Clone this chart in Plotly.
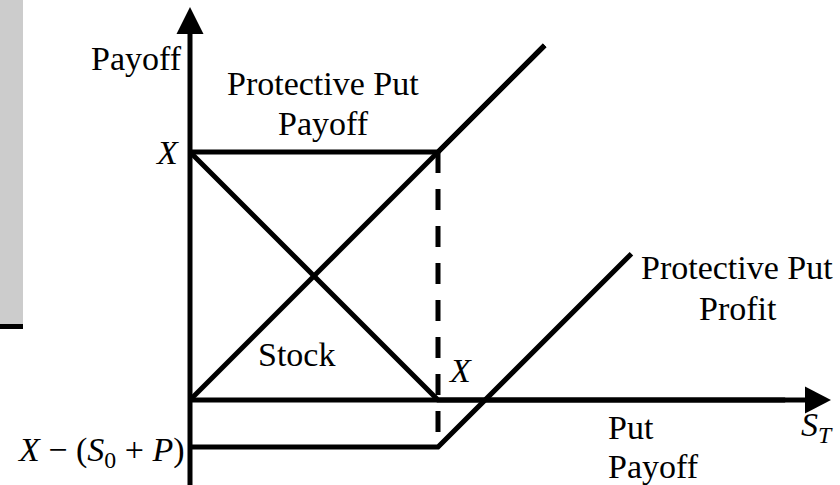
import plotly.graph_objects as go

# ---- data (stylised payoff diagram units) ----
strike = 50.0
net_cost_level = -9.5          # X - (S0 + P)
stock_x = [0.0, 71.5]
stock_y = [0.0, 71.5]
put_x = [0.0, 50.0, 120.0]
put_y = [50.0, 0.0, 0.0]
pp_payoff_x = [0.0, 50.0, 71.5]
pp_payoff_y = [50.0, 50.0, 71.5]
pp_profit_x = [0.0, 50.0, 89.0]
pp_profit_y = [-9.5, -9.5, 29.5]
dash_x = [strike, strike]
dash_y = [strike, net_cost_level]

# ---- canvas geometry ----
W, H = 840, 485
OX, OY = 190.0, 400.0   # pixel of origin
K = 4.96                # pixels per unit


def dx(px):
    return (px - OX) / K


def dy(py):
    return (OY - py) / K


xr = [dx(0), dx(W)]
yr = [dy(H), dy(0)]

LW = 5
FONT = "Liberation Serif, Times New Roman, serif"
FS = 34

fig = go.Figure()


def add_line(x, y, dash="solid"):
    fig.add_trace(go.Scatter(x=x, y=y, mode="lines",
                             line=dict(color="black", width=LW, dash=dash),
                             hoverinfo="skip", showlegend=False))


add_line(stock_x, stock_y)
add_line(put_x, put_y)
add_line(pp_payoff_x, pp_payoff_y)
add_line(pp_profit_x, pp_profit_y)
add_line(dash_x, dash_y, dash="21px,16px")

shapes = []
# grey side panel
shapes.append(dict(type="rect", xref="paper", yref="paper",
                   x0=0, x1=23 / W, y0=1 - 324 / H, y1=1,
                   fillcolor="#cccccc", line=dict(width=0), layer="below"))
shapes.append(dict(type="line", xref="paper", yref="paper",
                   x0=0, x1=23 / W, y0=1 - 326.5 / H, y1=1 - 326.5 / H,
                   line=dict(color="black", width=5)))
# axes
shapes.append(dict(type="line", x0=0, x1=0, y0=yr[0], y1=dy(30),
                   line=dict(color="black", width=LW)))
shapes.append(dict(type="line", x0=0, x1=dx(808), y0=0, y1=0,
                   line=dict(color="black", width=LW)))
# arrow heads
tx, ty = 0.0, dy(7)
by = dy(34)
hw = 13.5 / K
shapes.append(dict(type="path",
                   path=f"M {tx-hw},{by} L {tx},{ty} L {tx+hw},{by} Z",
                   fillcolor="black", line=dict(width=0)))
rx, bx = dx(831), dx(805)
shapes.append(dict(type="path",
                   path=f"M {bx},{hw} L {rx},0 L {bx},{-hw} Z",
                   fillcolor="black", line=dict(width=0)))


def ann(text, px, py, xanchor="center", align="center"):
    return dict(text=text, x=dx(px), y=dy(py), xref="x", yref="y",
                xanchor=xanchor, yanchor="middle", align=align,
                showarrow=False, font=dict(family=FONT, size=FS, color="black"))


annotations = [
    ann("Payoff", 184, 58, xanchor="right"),
    ann("Protective Put", 323, 83),
    ann("Payoff", 323, 123),
    ann("<i>X</i>", 181, 152, xanchor="right"),
    ann("Protective Put", 737, 267),
    ann("Profit", 738, 308),
    ann("Stock", 296, 354),
    ann("<i>X</i>", 446, 370, xanchor="left"),
    ann("Put", 606, 427, xanchor="left"),
    ann("Payoff", 606, 466, xanchor="left"),
    ann("<i>S</i><sub><i>T</i></sub>", 799, 427, xanchor="left"),
    ann("<i>X</i> − (<i>S</i><sub>0</sub> + <i>P</i>)", 186, 452, xanchor="right"),
]

fig.update_layout(
    width=W, height=H, autosize=False,
    margin=dict(l=0, r=0, t=0, b=0),
    paper_bgcolor="white", plot_bgcolor="white",
    xaxis=dict(range=xr, visible=False, fixedrange=True),
    yaxis=dict(range=yr, visible=False, fixedrange=True),
    shapes=shapes, annotations=annotations, showlegend=False,
)

fig.write_html("out.html", config={"displayModeBar": False},
               post_script="document.body.style.margin='0';document.body.style.overflow='hidden';")
